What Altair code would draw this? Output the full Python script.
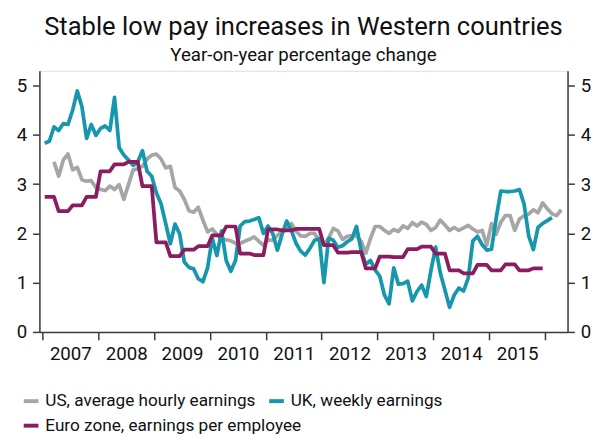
import altair as alt
import pandas as pd

# Monthly values, months counted from Jan 2007
uk_start = 0
uk = [3.83, 3.87, 4.16, 4.09, 4.23, 4.21, 4.50, 4.89, 4.57, 3.93,
      4.21, 3.99, 4.13, 4.18, 4.09, 4.76, 3.74, 3.59, 3.49, 3.38,
      3.45, 3.68, 3.26, 3.16, 2.82, 2.60, 2.20, 1.79, 2.19, 1.99,
      1.42, 1.31, 1.28, 1.08, 1.02, 1.30, 1.90, 1.55, 2.05, 1.45,
      1.23, 1.45, 2.15, 2.24, 2.25, 2.28, 2.32, 2.00, 2.15, 2.00,
      1.66, 1.98, 2.25, 2.06, 1.80, 1.64, 1.56, 1.70, 1.86, 1.89,
      1.00, 1.90, 1.86, 1.72, 1.75, 1.83, 1.89, 2.14, 1.65, 1.37,
      1.45, 1.26, 1.13, 0.75, 0.57, 1.30, 0.97, 0.98, 1.03, 0.63,
      0.82, 0.95, 0.72, 1.25, 1.72, 1.20, 0.85, 0.50, 0.75, 0.89,
      0.83, 1.09, 1.85, 1.94, 1.77, 1.66, 1.68, 2.30, 2.86, 2.85,
      2.85, 2.86, 2.89, 2.60, 1.95, 1.67, 2.12, 2.20, 2.26, 2.32]

us_start = 2
us = [3.45, 3.16, 3.49, 3.61, 3.29, 3.34, 3.09, 3.06, 3.07, 2.93,
      2.89, 2.87, 2.96, 2.89, 2.99, 2.69, 2.99, 3.29, 3.31, 3.36,
      3.51, 3.59, 3.61, 3.51, 3.33, 3.36, 2.93, 2.86, 2.69, 2.46,
      2.43, 2.53, 2.27, 2.03, 2.09, 1.98, 1.88, 1.87, 1.85, 1.80,
      1.80, 1.84, 1.88, 1.93, 1.84, 1.76, 1.87, 1.86, 1.96, 2.04,
      2.08, 2.20, 2.05, 1.95, 1.94, 2.00, 2.00, 1.85, 1.77, 1.90,
      2.10, 2.05, 1.88, 1.94, 1.95, 1.95, 1.84, 1.60, 1.90, 2.14,
      2.14, 2.06, 2.00, 2.08, 2.04, 2.15, 2.10, 2.22, 2.15, 2.23,
      2.18, 2.06, 2.12, 2.27, 2.17, 2.06, 2.12, 2.06, 2.11, 2.16,
      2.09, 2.03, 2.06, 1.76, 2.20, 1.98, 2.23, 2.36, 2.36, 2.06,
      2.29, 2.36, 2.39, 2.48, 2.42, 2.62, 2.50, 2.40, 2.36, 2.48]

# Quarterly values Q1 2007 .. Q4 2015
euro_start = 0
euro_q = [2.74, 2.45, 2.57, 2.74,
          3.26, 3.40, 3.45, 2.96,
          1.82, 1.54, 1.67, 1.74,
          1.96, 2.14, 1.59, 1.56,
          2.08, 2.06, 2.09, 2.09,
          1.76, 1.61, 1.62, 1.29,
          1.53, 1.52, 1.68, 1.73,
          1.59, 1.25, 1.19, 1.36,
          1.25, 1.37, 1.25, 1.29]

names = ["US, average hourly earnings", "UK, weekly earnings",
         "Euro zone, earnings per employee"]
colors = ["#a6a6a6", "#1797ab", "#8b1c5f"]

year_ticks = list(range(2007, 2017))

rows = []
def add(name, start, vals):
    for i, v in enumerate(vals):
        k = start + i
        rows.append({"t": 2007 + (k + 0.5) / 12.0, "value": v, "series": name})

add(names[0], us_start, us)
add(names[1], uk_start, uk)
euro_m = [v for v in euro_q for _ in range(3)]
add(names[2], euro_start, euro_m)
df = pd.DataFrame(rows)
df_a = df[df["series"] != names[2]]
df_b = df[df["series"] == names[2]]

F = "Roboto"
AX = "#3a3a3a"

xscale = alt.Scale(domain=[2006.947, 2016.404], nice=False, zero=False)
yscale = alt.Scale(domain=[0, 5.3], nice=False, zero=True)

xaxis = alt.Axis(values=year_ticks, title=None, grid=False, tickSize=8,
                 labelOffset=28.5, labelFontSize=19, labelPadding=5,
                 labelExpr="datum.value < 2016 ? datum.label : ''",
                 format="d", labelOverlap=False, labelBound=False,
                 labelFlush=False, domainColor=AX, tickColor=AX,
                 domainWidth=1.5, tickWidth=1.5, labelColor="#111",
                 labelFont=F)

def yaxis(orient):
    return alt.Axis(orient=orient, values=[0, 1, 2, 3, 4, 5], title=None,
                    grid=False, tickSize=7, labelFontSize=19, labelPadding=6,
                    domainColor=AX, tickColor=AX, domainWidth=1.5,
                    tickWidth=1.5, labelColor="#111", labelFont=F,
                    labelOverlap=False, labelBound=False, labelFlush=False)

def legend(y):
    return alt.Legend(title=None, orient="none", legendX=-18, legendY=y,
                      direction="horizontal", symbolType="stroke",
                      symbolStrokeWidth=4, symbolSize=225,
                      labelFontSize=17.5, labelFont=F, labelColor="#111",
                      labelLimit=500, columnPadding=5, labelOffset=5,
                      padding=0)

lines_a = alt.Chart(df_a).mark_line(strokeWidth=3.8, strokeJoin="round").encode(
    x=alt.X("t:Q", scale=xscale, axis=xaxis),
    y=alt.Y("value:Q", scale=yscale, axis=yaxis("left")),
    color=alt.Color("series:N",
                    scale=alt.Scale(domain=names[:2], range=colors[:2]),
                    sort=names[:2], legend=legend(327)),
    order=alt.Order("t:Q"),
)

lines_b = alt.Chart(df_b).mark_line(strokeWidth=3.8, strokeJoin="round").encode(
    x=alt.X("t:Q", scale=xscale, axis=xaxis),
    y=alt.Y("value:Q", scale=yscale, axis=None),
    color=alt.Color("series:N",
                    scale=alt.Scale(domain=names[2:], range=colors[2:]),
                    legend=legend(352)),
    order=alt.Order("t:Q"),
)

right = alt.Chart(df).mark_line(opacity=0).encode(
    x=alt.X("t:Q", scale=xscale, axis=xaxis),
    y=alt.Y("value:Q", scale=yscale, axis=yaxis("right")),
    detail="series:N",
)

chart = alt.layer(lines_a, lines_b, right).resolve_scale(
    y="independent", color="independent").properties(
    width=538, height=266,
    padding={"left": 32, "top": 60, "right": 30, "bottom": 100},
    autosize=alt.AutoSizeParams(type="none"),
    title=alt.TitleParams(
        text="Stable low pay increases in Western countries",
        subtitle="Year-on-year percentage change",
        font=F, subtitleFont=F, fontSize=26, subtitleFontSize=19,
        fontWeight="normal", color="#111", subtitleColor="#111",
        anchor="middle", frame="group", offset=6, subtitlePadding=6),
).configure_view(stroke=None).configure(font=F)

chart.save("out.html", embed_options={"renderer": "svg", "actions": False})
